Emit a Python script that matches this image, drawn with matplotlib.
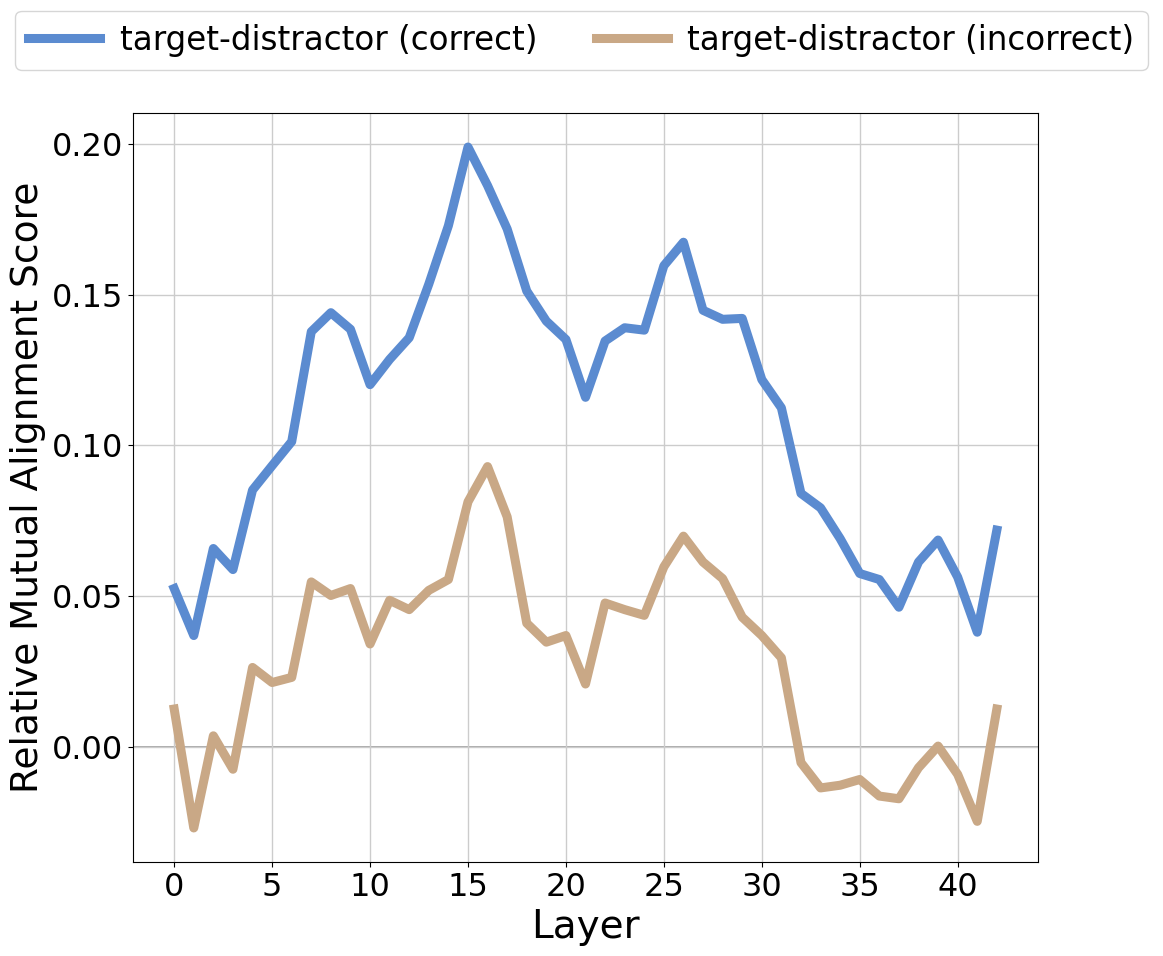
import matplotlib
matplotlib.use("Agg")
import matplotlib.pyplot as plt
import numpy as np

layers = np.arange(43)

# relative mutual alignment
correct = [0.0525, 0.0369, 0.0658, 0.0588, 0.0852, 0.0933, 0.1013, 0.1378, 0.1441, 0.1386,
           0.1202, 0.1286, 0.1358, 0.1536, 0.1730, 0.1991, 0.1863, 0.1719, 0.1513, 0.1413,
           0.1352, 0.1160, 0.1347, 0.1391, 0.1383, 0.1597, 0.1675, 0.1449, 0.1419, 0.1422,
           0.1219, 0.1125, 0.0841, 0.0793, 0.0691, 0.0575, 0.0555, 0.0463, 0.0613, 0.0686,
           0.0563, 0.0380, 0.0719]
incorrect = [0.0125, -0.0270, 0.0036, -0.0075, 0.0263, 0.0213, 0.0230, 0.0547, 0.0502, 0.0525,
             0.0341, 0.0486, 0.0455, 0.0519, 0.0555, 0.0813, 0.0930, 0.0763, 0.0410, 0.0347,
             0.0369, 0.0208, 0.0477, 0.0455, 0.0436, 0.0597, 0.0699, 0.0613, 0.0558, 0.0430,
             0.0369, 0.0295, -0.0053, -0.0137, -0.0128, -0.0109, -0.0164, -0.0173, -0.0070, 0.0002,
             -0.0092, -0.0248, 0.0125]

labels = ["target-distractor (correct)", "target-distractor (incorrect)"]
colors = ["#5b8bd0", "#c9a886"]

fig = plt.figure(figsize=(11.63, 9.56), dpi=100)
ax = fig.add_axes([0.1144, 0.0983, 0.7781, 0.7835])

ax.plot(layers, correct, color=colors[0], lw=6.5, label=labels[0])
ax.plot(layers, incorrect, color=colors[1], lw=6.5, label=labels[1])
ax.axhline(0, color="gray", lw=1.2, alpha=0.8, zorder=0)

ax.grid(True, color="#cccccc", lw=1)
ax.set_axisbelow(True)
ax.set_xlabel("Layer", fontsize=28)
ax.set_ylabel("Relative Mutual Alignment Score", fontsize=27)
ax.tick_params(labelsize=23)
ax.set_xticks(np.arange(0, 45, 5))
ax.set_yticks([0.0, 0.05, 0.10, 0.15, 0.20])
ax.yaxis.set_major_formatter(matplotlib.ticker.FormatStrFormatter("%.2f"))

fig.legend(loc="upper center", bbox_to_anchor=(0.5, 1.006), ncol=2, fontsize=23.5,
           handlelength=2.2, handletextpad=0.6, columnspacing=1.8, frameon=True)

fig.savefig("out.png", dpi=100)
